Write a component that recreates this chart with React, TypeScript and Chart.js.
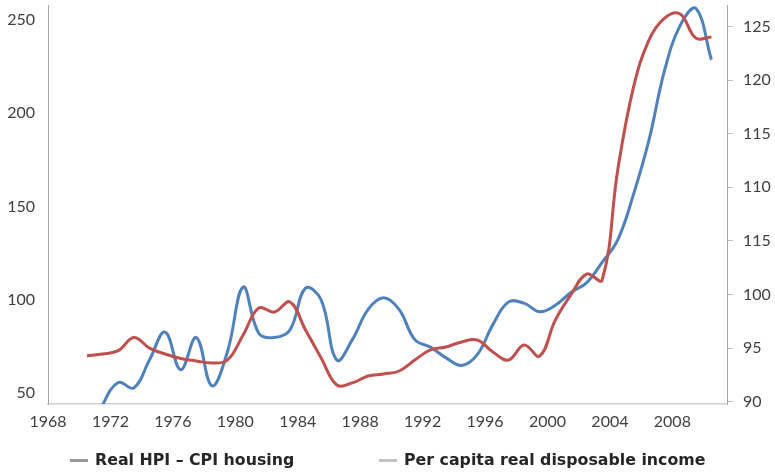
import React, { useEffect, useRef } from "react";
import { Chart, registerables } from "chart.js";

Chart.register(...registerables);

// ---- data ----
const years = [
  1970, 1971, 1972, 1973, 1974, 1975, 1976, 1977, 1978, 1979,
  1980, 1981, 1982, 1983, 1984, 1985, 1986, 1987, 1988, 1989,
  1990, 1991, 1992, 1993, 1994, 1995, 1996, 1997, 1998, 1999,
  2000, 2001, 2002, 2003, 2004, 2005, 2006, 2007, 2008, 2009, 2010,
];

// Real HPI – CPI housing (left axis)
const realHpi = [
  69.9, 70.8, 72.6, 79.7, 74.0, 70.8, 68.4, 67.1, 66.0, 67.6,
  81.0, 95.5, 93.3, 98.7, 83.7, 68.7, 54.2, 55.3, 59.0, 60.1,
  61.7, 67.6, 73.0, 74.6, 77.3, 78.3, 71.9, 67.6, 75.6, 69.7,
  89.0, 102.5, 113.7, 110.5, 169.5, 213.5, 239.2, 251.0, 253.2, 240.3, 240.8,
];

// Per capita real disposable income (right axis)
const perCapitaIncome = [
  86.0, 89.7, 91.8, 91.3, 93.9, 96.5, 93.0, 96.0, 91.5, 94.7,
  100.7, 96.4, 96.0, 96.7, 100.6, 99.5, 93.9, 95.8, 98.6, 99.7,
  98.6, 95.8, 95.1, 94.1, 93.4, 94.4, 97.2, 99.3, 99.2, 98.4,
  99.0, 100.2, 101.1, 103.0, 105.1, 109.3, 114.4, 120.9, 125.1, 126.7, 121.9,
];

const xTickValues = [1967.5, 1971.5, 1975.5, 1979.5, 1983.5, 1987.5, 1991.5, 1995.5, 1999.5, 2003.5, 2007.5];
const xTickLabels = ["1968", "1972", "1976", "1980", "1984", "1988", "1992", "1996", "2000", "2004", "2008"];

const leftTickValues = [50, 100, 150, 200, 250];
const rightTickValues = [90, 95, 100, 105, 110, 115, 120, 125];
const rightTickLabels = ["90", "95", "100", "115", "110", "115", "120", "125"];

const seriesNames = ["Real HPI – CPI housing", "Per capita real disposable income"];

// ---- styles ----
const RED = "#C0504D";
const BLUE = "#4F81BD";
const TEXT = "#404040";
const FONT = "Lato, 'DejaVu Sans', sans-serif";
const LEGEND_FONT = "'DejaVu Sans', sans-serif";

export default function App() {
  const canvasRef = useRef<HTMLCanvasElement | null>(null);

  useEffect(() => {
    document.body.style.margin = "0";
    const ctx = canvasRef.current;
    if (!ctx) return;
    const noVPad = (scale: any) => {
      scale.paddingTop = 0;
      scale.paddingBottom = 0;
    };
    const chart = new Chart(ctx, {
      type: "line",
      data: {
        datasets: [
          {
            label: seriesNames[0],
            data: years.map((y, i) => ({ x: y, y: realHpi[i] })),
            borderColor: RED,
            backgroundColor: RED,
            borderWidth: 3,
            pointRadius: 0,
            tension: 0.4,
            yAxisID: "y",
          },
          {
            label: seriesNames[1],
            data: years.map((y, i) => ({ x: y, y: perCapitaIncome[i] })),
            borderColor: BLUE,
            backgroundColor: BLUE,
            borderWidth: 3,
            pointRadius: 0,
            tension: 0.4,
            yAxisID: "y1",
          },
        ],
      },
      options: {
        animation: false,
        responsive: false,
        maintainAspectRatio: false,
        layout: { padding: { top: 5, left: 0, right: 0, bottom: 0 } },
        plugins: {
          legend: { display: false },
          tooltip: { enabled: false },
        },
        scales: {
          x: {
            type: "linear",
            min: 1967.5,
            max: 2011,
            afterBuildTicks: (scale: any) => {
              scale.ticks = xTickValues.map((v) => ({ value: v }));
            },
            afterFit: (scale: any) => {
              scale.height = 68;
              scale.paddingLeft = 0;
              scale.paddingRight = 0;
            },
            ticks: {
              autoSkip: false,
              maxRotation: 0,
              padding: 8,
              color: TEXT,
              font: { family: FONT, size: 16 },
              callback: (_v: any, i: number) => xTickLabels[i],
            },
            grid: { display: false, drawTicks: false },
            border: { display: true, color: "#D0D0D0", width: 1.5 },
          },
          y: {
            type: "linear",
            position: "left",
            min: 44,
            max: 258,
            afterBuildTicks: (scale: any) => {
              scale.ticks = leftTickValues.map((v) => ({ value: v }));
            },
            afterFit: (scale: any) => {
              scale.width = 48;
              noVPad(scale);
            },
            ticks: {
              padding: 13,
              color: TEXT,
              font: { family: FONT, size: 16 },
            },
            grid: { display: false, drawTicks: false },
            border: { display: true, color: "#A6A6A6", width: 1 },
          },
          y1: {
            type: "linear",
            position: "right",
            min: 89.8,
            max: 127,
            afterBuildTicks: (scale: any) => {
              scale.ticks = rightTickValues.map((v) => ({ value: v }));
            },
            afterFit: (scale: any) => {
              scale.width = 48;
              noVPad(scale);
            },
            ticks: {
              padding: 10,
              color: TEXT,
              font: { family: FONT, size: 16 },
              callback: (_v: any, i: number) => rightTickLabels[i],
            },
            grid: {
              display: true,
              drawOnChartArea: false,
              drawTicks: true,
              tickLength: 6,
              color: "#BFBFBF",
            },
            border: { display: true, color: "#A6A6A6", width: 1 },
          },
        },
      },
    });
    return () => chart.destroy();
  }, []);

  const legendText: React.CSSProperties = {
    position: "absolute",
    top: 450,
    fontFamily: LEGEND_FONT,
    fontWeight: 700,
    fontSize: 15.8,
    color: "#262626",
    lineHeight: "20px",
    whiteSpace: "nowrap",
  };
  const marker = (left: number, color: string): React.CSSProperties => ({
    position: "absolute",
    left,
    top: 459,
    width: 18,
    height: 3,
    background: color,
  });

  return (
    <div style={{ position: "fixed", left: 0, top: 0, width: 775, height: 472, background: "#fff" }}>
      <canvas ref={canvasRef} width={775} height={472} style={{ position: "absolute", left: 0, top: 0 }} />
      <div style={marker(70, "#9A9A9A")} />
      <div style={{ ...legendText, left: 95 }}>{seriesNames[0]}</div>
      <div style={marker(379, "#C4C4C4")} />
      <div style={{ ...legendText, left: 404 }}>{seriesNames[1]}</div>
    </div>
  );
}
